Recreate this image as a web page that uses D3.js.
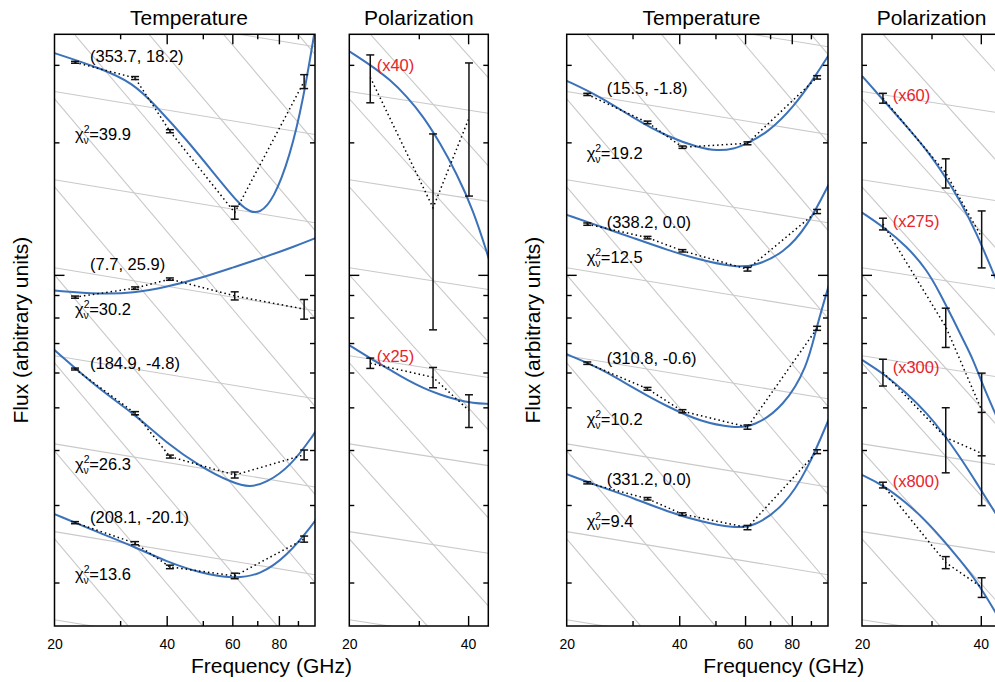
<!DOCTYPE html>
<html>
<head>
<meta charset="utf-8">
<script src="https://cdn.jsdelivr.net/npm/d3@7"></script>
<style>
  body { margin: 0; background: #fff; }
  svg { display: block; font-family: "Liberation Sans", Arial, Helvetica, sans-serif; }
</style>
</head>
<body>
<svg id="chart" width="995" height="682"></svg>
<script>
// ---------------- DATA ----------------
const tempFreqs = [22.7, 32.9, 40.8, 60.9, 93.5];
const polFreqs = [22.6, 32.6, 40.2];

const tempDomain = [20, 100];
const polDomain = [20, 45];
const fluxDomain = [1.593, 35.2];

const tempMinorTicks = [30, 50, 70, 90];
const tempMajorTicks = [40, 60, 80];
const tempTickLabels = [20, 40, 60, 80];
const polMinorTicks = [30];
const polMajorTicks = [40];
const polTickLabels = [20, 40];
const fluxMinorTicks = [2, 3, 4, 5, 6, 7, 8, 9, 20, 30];
const fluxMajorTicks = [10];

// reference power-law lines: value at 20 GHz, spectral index
const steepLevels = [1.585, 2.512, 3.981, 6.310, 10, 15.85, 25.12, 39.81, 63.10, 100, 158.5];
const steepIndex = -1;
const shallowLevels = [1.646, 2.61, 4.13, 6.55, 10.38, 16.45, 26.1, 41.3];
const shallowIndex = -0.14;

// Left group - temperature
const leftTempCoords = ["(353.7, 18.2)", "(7.7, 25.9)", "(184.9, -4.8)", "(208.1, -20.1)"];
const leftTempChi = ["39.9", "30.2", "26.3", "13.6"];
const leftTempValues = [
  [30.4, 28.0, 21.2, 13.85, 27.5],
  [8.90, 9.33, 9.78, 8.96, 8.36],
  [6.11, 4.85, 3.865, 3.51, 3.90],
  [2.735, 2.457, 2.17, 2.07, 2.51]
];
const leftTempErrors = [
  [0.15, 0.22, 0.17, 0.47, 1.0],
  [0.05, 0.06, 0.06, 0.19, 0.43],
  [0.03, 0.04, 0.03, 0.055, 0.1],
  [0.015, 0.02, 0.02, 0.03, 0.04]
];
const leftTempCurves = [
  [[20, 31.9], [26.5, 29.5], [32.5, 27.3], [37.6, 24.1], [45.2, 20.3], [54.5, 16.7], [62.9, 14.4], [67, 13.9], [71, 13.8], [77.3, 14.8], [85.7, 18.6], [93.0, 25.0], [99.5, 35.2], [101, 38]],
  [[20, 9.21], [26.5, 9.04], [32.6, 9.09], [40.0, 9.38], [49.4, 9.83], [60.4, 10.4], [74.0, 11.0], [88, 11.6], [101, 12.15]],
  [[20, 6.75], [26.5, 5.47], [32.6, 4.85], [40.0, 4.14], [49.4, 3.66], [60.4, 3.36], [66.9, 3.29], [74.0, 3.37], [85.7, 3.66], [99.5, 4.35], [101, 4.45]],
  [[20, 2.86], [26.5, 2.59], [32.6, 2.415], [40.0, 2.23], [49.4, 2.10], [60.4, 2.04], [71.2, 2.08], [83.9, 2.29], [99.5, 2.735], [101, 2.8]]
];

// Left group - polarization
const leftPolFactors = ["(x40)", "(x25)"];
const leftPolValues = [[28.1, 14.2, 22.7], [6.3, 5.85, 4.92]];
const leftPolErrors = [[3.5, 6.7, 7.6], [0.17, 0.31, 0.42]];
const leftPolCurves = [
  [[20, 32.2], [22.6, 30.0], [25.4, 27.75], [28.0, 25.4], [30.8, 22.9], [34.0, 19.9], [37.4, 17.0], [41.2, 14.05], [45, 11.0], [45.5, 10.6]],
  [[20, 6.92], [22.6, 6.46], [25.4, 6.08], [28.0, 5.77], [30.8, 5.53], [34.0, 5.34], [37.4, 5.2], [41.2, 5.11], [45, 5.09], [45.5, 5.09]]
];

// Right group - temperature
const rightTempCoords = ["(15.5, -1.8)", "(338.2, 0.0)", "(310.8, -0.6)", "(331.2, 0.0)"];
const rightTempChi = ["19.2", "12.5", "10.2", "9.4"];
const rightTempValues = [
  [25.7, 22.2, 19.5, 19.9, 28.1],
  [13.04, 12.15, 11.34, 10.3, 13.93],
  [6.30, 5.51, 4.90, 4.51, 7.56],
  [3.37, 3.10, 2.86, 2.666, 3.965]
];
const rightTempErrors = [
  [0.15, 0.15, 0.12, 0.15, 0.25],
  [0.08, 0.08, 0.07, 0.1, 0.15],
  [0.04, 0.04, 0.04, 0.05, 0.08],
  [0.02, 0.02, 0.02, 0.03, 0.04]
];
const rightTempCurves = [
  [[20, 27.6], [24.6, 25.4], [30.2, 22.7], [37.1, 20.6], [45.6, 19.4], [50.5, 19.15], [56, 19.3], [60.8, 19.9], [68.8, 21.0], [81.1, 24.1], [92.3, 28.2], [101, 31.8]],
  [[20, 13.69], [24.6, 12.88], [30.2, 12.12], [37.1, 11.4], [45.6, 10.8], [56.0, 10.42], [63.3, 10.44], [76.2, 11.2], [88.1, 12.88], [101, 16.2]],
  [[20, 6.60], [24.6, 6.14], [30.2, 5.53], [37.1, 5.02], [45.6, 4.64], [56.0, 4.49], [63.3, 4.52], [76.2, 5.02], [88.1, 6.19], [92.7, 7.5], [101, 9.6]],
  [[20, 3.525], [24.6, 3.30], [30.2, 3.11], [37.1, 2.90], [45.6, 2.75], [56.0, 2.66], [63.3, 2.675], [76.2, 2.975], [88.1, 3.60], [101, 4.75]]
];

// Right group - polarization
const rightPolFactors = ["(x60)", "(x275)", "(x300)", "(x800)"];
const rightPolValues = [[25.2, 17.05, 12.17], [13.05, 7.62, 4.93], [6.01, 4.27, 3.93], [3.33, 2.22, 1.95]];
const rightPolErrors = [[0.65, 1.3, 1.8], [0.4, 0.78, 1.05], [0.42, 0.72, 0.94], [0.05, 0.07, 0.1]];
const rightPolCurves = [
  [[20, 28.3], [22.6, 25.0], [26.0, 21.7], [29.2, 19.2], [32.1, 17.0], [35.4, 14.8], [39.1, 12.4], [43.0, 10.1], [45.5, 9.0]],
  [[20, 13.86], [22.6, 12.88], [26.0, 11.6], [29.2, 10.27], [31.5, 9.09], [34.1, 7.9], [36.1, 7.11], [38.3, 6.41], [40.6, 5.57], [43.5, 4.85], [45.5, 4.4]],
  [[20, 6.41], [22.6, 5.98], [26.0, 5.38], [29.2, 4.85], [32.1, 4.37], [35.4, 3.86], [39.1, 3.36], [43.3, 2.90], [45.5, 2.7]],
  [[20, 3.51], [22.6, 3.33], [26.0, 3.03], [29.2, 2.75], [32.1, 2.50], [35.4, 2.25], [39.1, 2.01], [43.3, 1.73], [45.5, 1.6]]
];

// ---------------- LAYOUT / STYLE ----------------
const Y_TOP = 34.3, Y_BOT = 626;
const BLUE = "#3b72ba", GRAY = "#c9c9c9", RED = "#e8232b";
const svg = d3.select("#chart");
const defs = svg.append("defs");

const y = d3.scaleLog().domain(fluxDomain).range([Y_BOT, Y_TOP]);

function makePanel(id, x0, x1, domain, title, titleX) {
  const x = d3.scaleLog().domain(domain).range([x0, x1]);
  defs.append("clipPath").attr("id", "clip-" + id)
    .append("rect").attr("x", x0).attr("y", Y_TOP).attr("width", x1 - x0).attr("height", Y_BOT - Y_TOP);
  const g = svg.append("g");
  const inner = g.append("g").attr("clip-path", `url(#clip-${id})`);
  const gl = d3.line().x(d => x(d[0])).y(d => y(d[1]));
  steepLevels.forEach(v => {
    inner.append("path").attr("d", gl(domain.map(f => [f, v * Math.pow(f / 20, steepIndex)])))
      .attr("fill", "none").attr("stroke", GRAY).attr("stroke-width", 1.1);
  });
  shallowLevels.forEach(v => {
    inner.append("path").attr("d", gl(domain.map(f => [f, v * Math.pow(f / 20, shallowIndex)])))
      .attr("fill", "none").attr("stroke", GRAY).attr("stroke-width", 1.1);
  });
  g.append("text").attr("x", titleX).attr("y", 25).attr("text-anchor", "middle")
    .attr("font-size", 21).attr("fill", "#000").text(title);
  return { x, g, inner, x0, x1 };
}

function drawSeries(p, freqs, values, errors, curve) {
  const line = d3.line().x(d => p.x(d[0])).y(d => y(d[1]));
  p.inner.append("path").attr("d", line.curve(d3.curveBasis)(curve))
    .attr("fill", "none").attr("stroke", BLUE).attr("stroke-width", 2);
  const pts = freqs.map((f, i) => [f, values[i]]);
  p.inner.append("path").attr("d", d3.line().x(d => p.x(d[0])).y(d => y(d[1]))(pts))
    .attr("fill", "none").attr("stroke", "#000").attr("stroke-width", 1.5)
    .attr("stroke-dasharray", "1.5,3");
  pts.forEach((d, i) => {
    const cx = p.x(d[0]);
    const yt = y(d[1] + errors[i]), yb = y(d[1] - errors[i]);
    const eb = p.g.append("g").attr("stroke", "#111").attr("stroke-width", 1.5);
    eb.append("line").attr("x1", cx).attr("x2", cx).attr("y1", yt).attr("y2", yb);
    eb.append("line").attr("x1", cx - 4).attr("x2", cx + 4).attr("y1", yt).attr("y2", yt);
    eb.append("line").attr("x1", cx - 4).attr("x2", cx + 4).attr("y1", yb).attr("y2", yb);
  });
}

function chiLabel(g, xx, yy, chi) {
  const t = g.append("text").attr("x", xx).attr("y", yy).attr("font-size", 16.5).attr("fill", "#000");
  t.append("tspan").text("χ");
  t.append("tspan").attr("font-size", 10.5).attr("dy", -7).text("2");
  t.append("tspan").attr("font-size", 10.5).attr("dx", -5.9).attr("dy", 10.5).text("ν");
  t.append("tspan").attr("dy", -3.5).attr("dx", 0.3).text("=" + chi);
}

function frameAndAxes(p, minor, major, labels) {
  const g = p.g;
  const fmt = () => "";
  const addAxis = (axis, tr) => {
    const a = g.append("g").attr("transform", tr).call(axis);
    a.select(".domain").remove();
    a.selectAll("line").attr("stroke", "#000").attr("stroke-width", 1.4);
    return a;
  };
  [[minor, 5], [major, 10]].forEach(([vals, len]) => {
    addAxis(d3.axisBottom(p.x).tickValues(vals).tickSize(-len).tickFormat(fmt), `translate(0,${Y_BOT})`);
    addAxis(d3.axisTop(p.x).tickValues(vals).tickSize(-len).tickFormat(fmt), `translate(0,${Y_TOP})`);
  });
  [[fluxMinorTicks, 5], [fluxMajorTicks, 10]].forEach(([vals, len]) => {
    addAxis(d3.axisLeft(y).tickValues(vals).tickSize(-len).tickFormat(fmt), `translate(${p.x0},0)`);
    addAxis(d3.axisRight(y).tickValues(vals).tickSize(-len).tickFormat(fmt), `translate(${p.x1},0)`);
  });
  const lab = g.append("g").attr("transform", `translate(0,${Y_BOT})`)
    .call(d3.axisBottom(p.x).tickValues(labels).tickSize(0).tickPadding(13).tickFormat(d3.format("d")));
  lab.select(".domain").remove();
  lab.selectAll("text").attr("font-size", 14).attr("font-family", "Liberation Sans, Arial, sans-serif").attr("fill", "#000");
  g.append("rect").attr("x", p.x0).attr("y", Y_TOP).attr("width", p.x1 - p.x0).attr("height", Y_BOT - Y_TOP)
    .attr("fill", "none").attr("stroke", "#000").attr("stroke-width", 1.5);
}

function drawGroup(cfg) {
  const pt = makePanel(cfg.id + "t", cfg.tx[0], cfg.tx[1], tempDomain, "Temperature", cfg.ttitleX);
  const pp = makePanel(cfg.id + "p", cfg.px[0], cfg.px[1], polDomain, "Polarization", (cfg.px[0] + cfg.px[1]) / 2);
  cfg.tempValues.forEach((vals, i) => {
    drawSeries(pt, tempFreqs, vals, cfg.tempErrors[i], cfg.tempCurves[i]);
    pt.g.append("text").attr("x", cfg.coordX).attr("y", cfg.coordY[i]).attr("font-size", 16.5)
      .attr("fill", "#000").text(cfg.coords[i]);
    chiLabel(pt.g, cfg.chiX, cfg.chiY[i], cfg.chi[i]);
  });
  cfg.polValues.forEach((vals, i) => {
    drawSeries(pp, polFreqs, vals, cfg.polErrors[i], cfg.polCurves[i]);
    pp.g.append("text").attr("x", cfg.facX).attr("y", cfg.facY[i]).attr("font-size", 16.5)
      .attr("fill", RED).text(cfg.factors[i]);
  });
  frameAndAxes(pt, tempMinorTicks, tempMajorTicks, tempTickLabels);
  frameAndAxes(pp, polMinorTicks, polMajorTicks, polTickLabels);
  svg.append("text").attr("x", (cfg.tx[0] + cfg.px[1]) / 2).attr("y", 673)
    .attr("text-anchor", "middle").attr("font-size", 21).attr("fill", "#000").text("Frequency (GHz)");
  svg.append("text").attr("transform", `translate(${cfg.tx[0] - 26.5},${(Y_TOP + Y_BOT) / 2}) rotate(-90)`)
    .attr("text-anchor", "middle").attr("font-size", 21).attr("fill", "#000").text("Flux (arbitrary units)");
}

drawGroup({
  id: "l", tx: [54.5, 315], px: [349.3, 488.3], ttitleX: 189,
  tempValues: leftTempValues, tempErrors: leftTempErrors, tempCurves: leftTempCurves,
  coords: leftTempCoords, chi: leftTempChi,
  coordX: 90, coordY: [61.7, 270, 369.3, 523.3],
  chiX: 75, chiY: [140, 315, 470, 580],
  polValues: leftPolValues, polErrors: leftPolErrors, polCurves: leftPolCurves,
  factors: leftPolFactors, facX: 376.7, facY: [70.7, 361.7]
});

drawGroup({
  id: "r", tx: [566.7, 828], px: [862, 1001], ttitleX: 701.5,
  tempValues: rightTempValues, tempErrors: rightTempErrors, tempCurves: rightTempCurves,
  coords: rightTempCoords, chi: rightTempChi,
  coordX: 606.7, coordY: [94.3, 227.7, 364.3, 485],
  chiX: 586.7, chiY: [159.3, 263.3, 425, 526.7],
  polValues: rightPolValues, polErrors: rightPolErrors, polCurves: rightPolCurves,
  factors: rightPolFactors, facX: 892.7, facY: [100.7, 226.7, 372.7, 486.7]
});
</script>
</body>
</html>
